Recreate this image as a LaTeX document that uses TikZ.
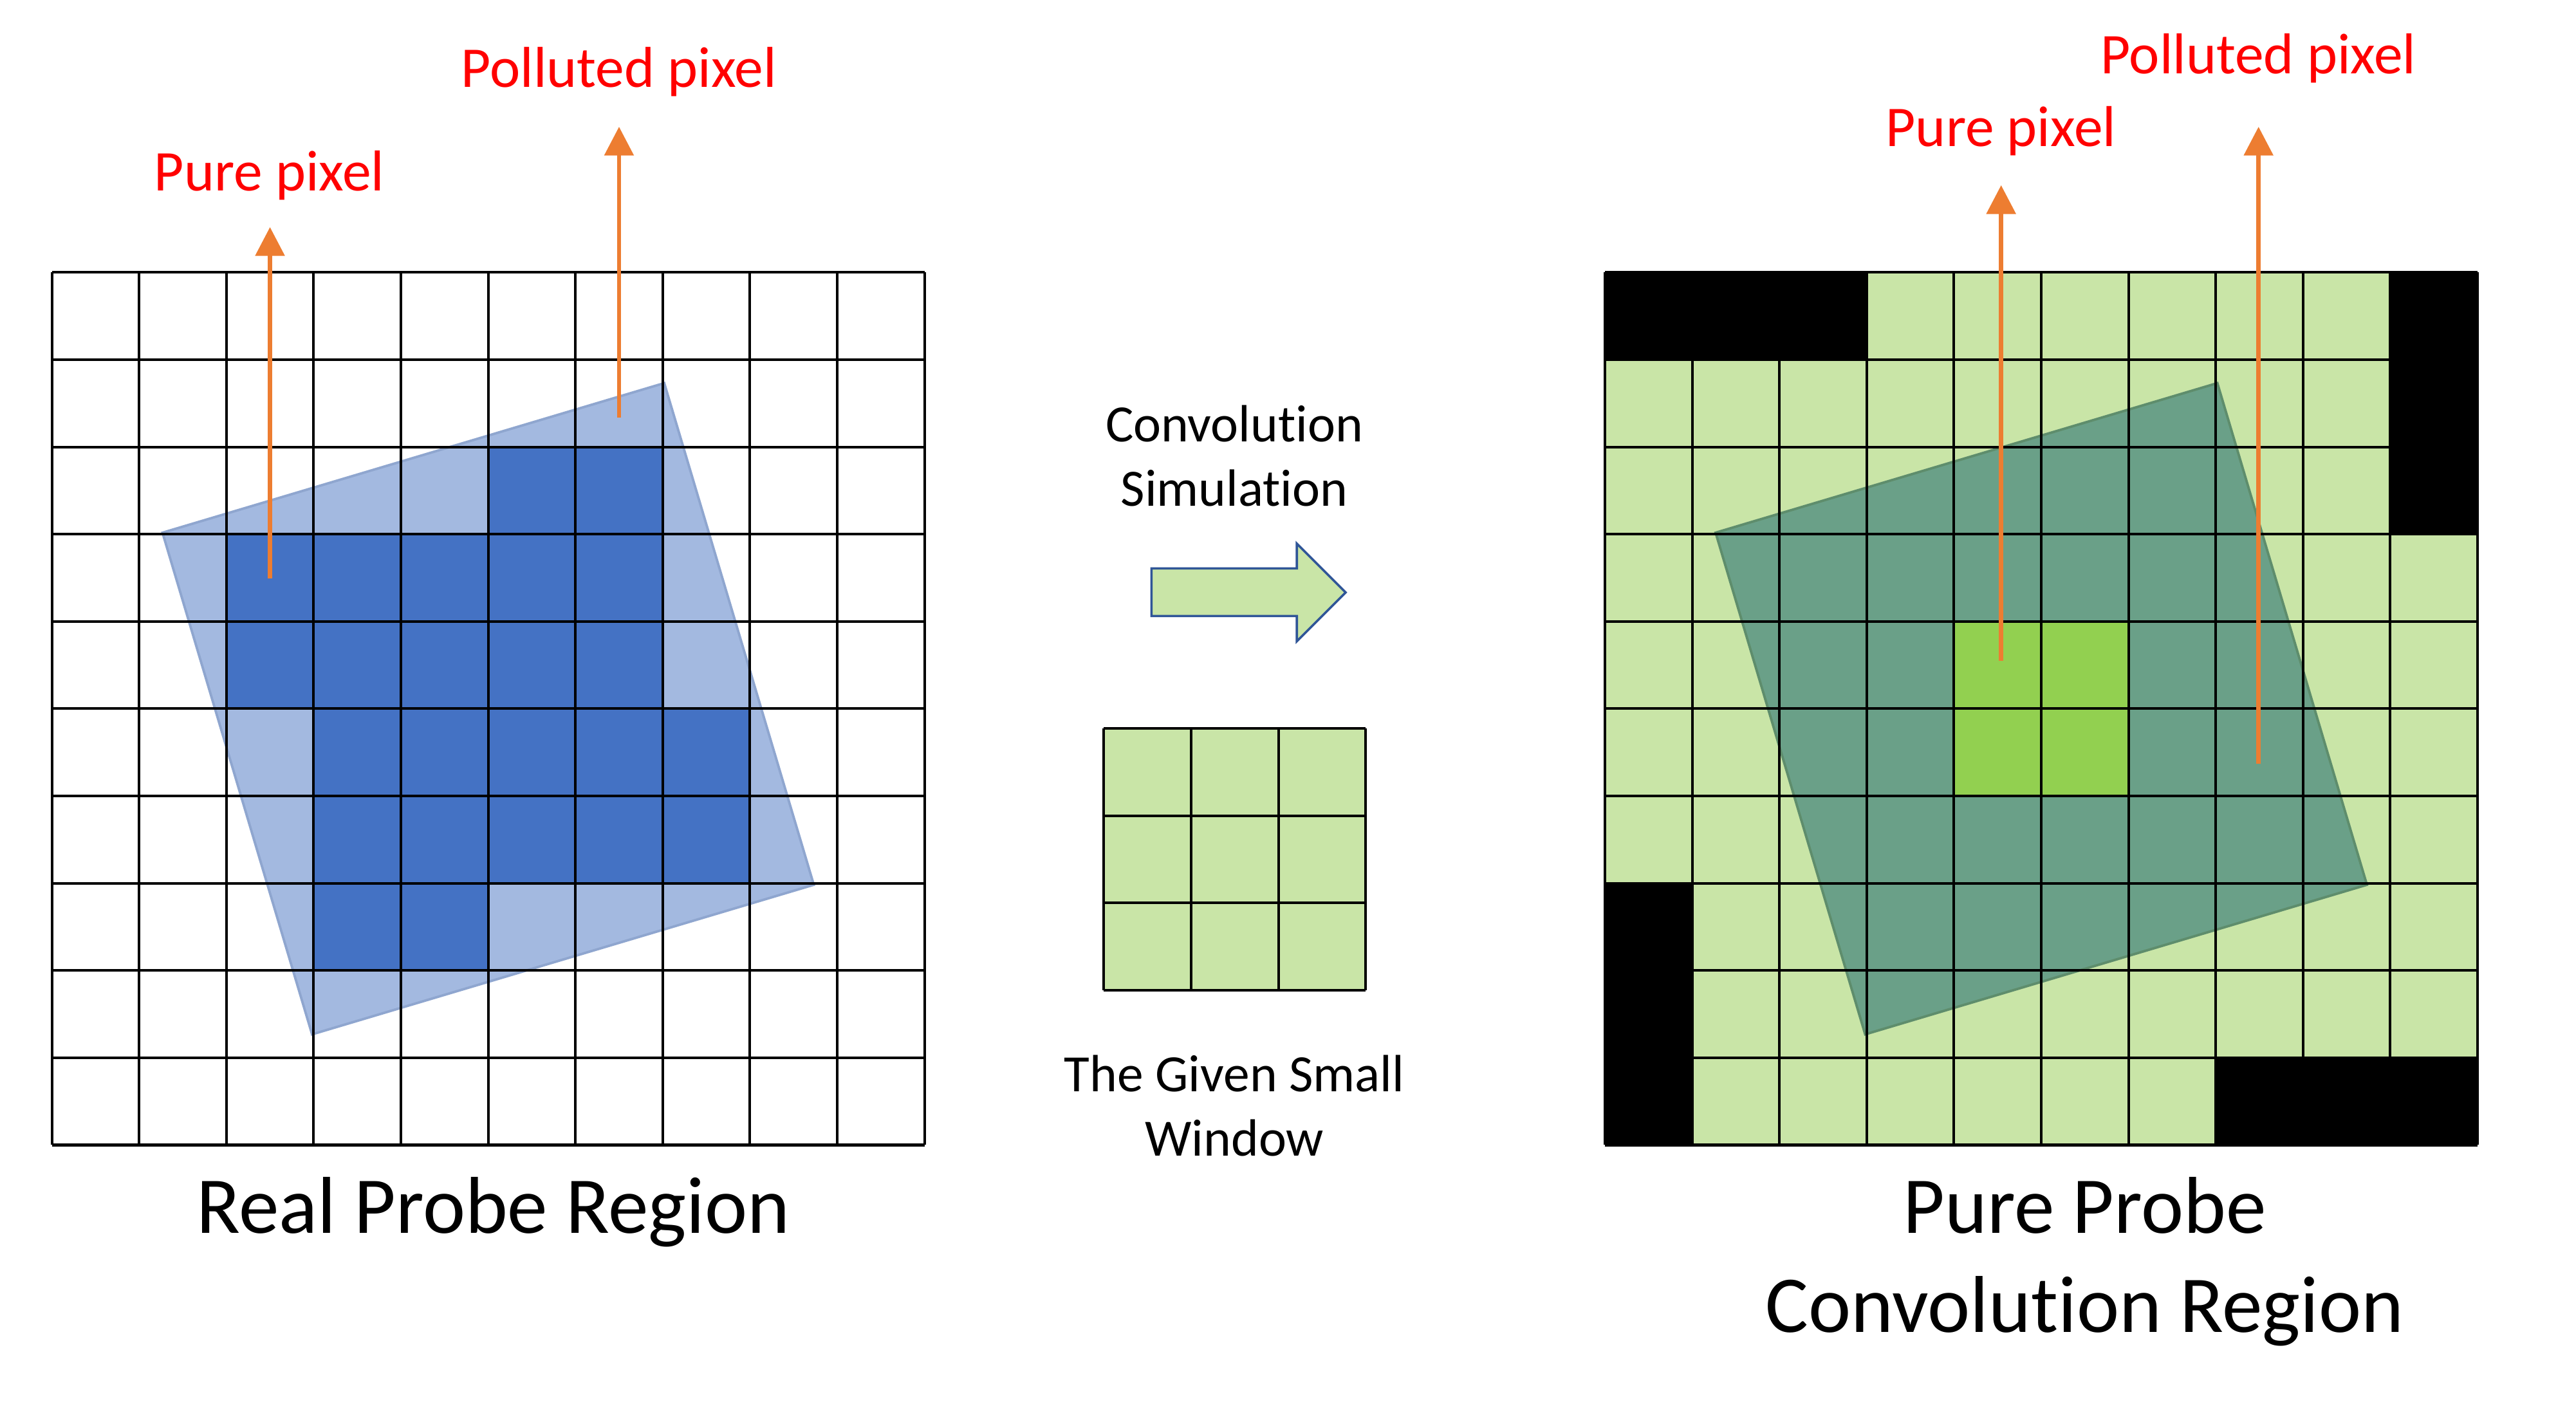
\documentclass[tikz,border=0pt]{standalone}
\usepackage{fontspec}
\setmainfont{Carlito}[Ligatures=CommonOff]
\usetikzlibrary{positioning,arrows.meta}
\definecolor{probeblue}{HTML}{4472C4}
\definecolor{probelight}{HTML}{A3B9E0}
\definecolor{probeedge}{HTML}{8FA6CF}
\definecolor{cellgreen}{HTML}{C9E5A7}
\definecolor{puregreen}{HTML}{92D050}
\definecolor{convteal}{HTML}{6AA088}
\definecolor{convedge}{HTML}{5E8D6C}
\definecolor{pixarrow}{HTML}{ED7D31}
\definecolor{blockedge}{HTML}{2F5597}
\tikzset{
    redlbl/.style={text=red,font=\fontsize{18.8}{22}\selectfont,anchor=base,inner sep=0pt},
    midlbl/.style={font=\fontsize{17.1}{20.8}\selectfont,anchor=base,inner sep=0pt},
    biglbl/.style={font=\fontsize{26.3}{32.3}\selectfont,anchor=base,inner sep=0pt},
    gridline/.style={line width=0.85pt},
    pixarr/.style={->,pixarrow,line width=1.4pt},
}
\begin{document}
\begin{tikzpicture}[>={Triangle[width=3.3mm,length=3.3mm]}]
\useasboundingbox (0,0) rectangle (29.52,16.09);
\begin{scope}[shift={(0.594,2.967)}]
    \draw[probeedge,fill=probelight,line width=0.8pt,rotate around={16.6:(5,5)}](2,2) rectangle (8,8);
    \fill[probeblue](5,7) rectangle (7,8);
    \fill[probeblue](2,5) rectangle (7,7);
    \fill[probeblue](3,3) rectangle (8,5);
    \fill[probeblue](3,2) rectangle (5,3);
\foreach \x in {0,...,10}
{
    \draw[gridline](\x,0)--(\x,10);
    \draw[gridline](0,\x)--(10,\x);
}
    \coordinate (lpure0) at (2.5,6.49);
    \coordinate (lpure1) at (2.5,10.52);
    \coordinate (lpol0) at (6.5,8.335);
    \coordinate (lpol1) at (6.5,11.67);
\end{scope}
\begin{scope}[shift={(18.392,2.967)}]
    \fill[cellgreen](0,0) rectangle (10,10);
    \draw[convedge,fill=convteal,line width=0.8pt,rotate around={16.6:(5,5)}](2,2) rectangle (8,8);
    \fill[puregreen](4,4) rectangle (6,6);
    \fill(0,9) rectangle (3,10);
    \fill(9,7) rectangle (10,10);
    \fill(0,0) rectangle (1,3);
    \fill(7,0) rectangle (10,1);
\foreach \x in {0,...,10}
{
    \draw[gridline](\x,0)--(\x,10);
    \draw[gridline](0,\x)--(10,\x);
}
    \coordinate (rpure0) at (4.54,5.55);
    \coordinate (rpure1) at (4.54,11.0);
    \coordinate (rpol0) at (7.49,4.37);
    \coordinate (rpol1) at (7.49,11.67);
\end{scope}
\begin{scope}[shift={(12.65,4.74)}]
    \fill[cellgreen](0,0) rectangle (3,3);
\foreach \x in {0,...,3}
{
    \draw[gridline](\x,0)--(\x,3);
    \draw[gridline](0,\x)--(3,\x);
}
\end{scope}
\draw[blockedge,fill=cellgreen,line width=0.75pt](13.196,9.03)--(14.861,9.03)--(14.861,8.74)--(15.421,9.30)--(14.861,9.86)--(14.861,9.575)--(13.196,9.575)--cycle;
\draw[pixarr](lpure0)--(lpure1);
\draw[pixarr](lpol0)--(lpol1);
\draw[pixarr](rpure0)--(rpure1);
\draw[pixarr](rpol0)--(rpol1);
\node[redlbl](lpoltext) at (7.094,15.087){Polluted pixel};
\node[redlbl](lpuretext) at (3.087,13.902){Pure pixel};
\node[redlbl](rpoltext) at (25.88,15.243){Polluted pixel};
\node[redlbl](rpuretext) at (22.93,14.41){Pure pixel};
\node[midlbl](convtext) at (14.145,11.024){Convolution};
\node[midlbl,below=0.734cm of convtext.base,anchor=base](simtext){Simulation};
\node[midlbl](wintext) at (14.145,3.577){The Given Small};
\node[midlbl,below=0.733cm of wintext.base,anchor=base](wintext2){Window};
\node[biglbl](realtext) at (5.651,1.957){Real Probe Region};
\node[biglbl](puretext) at (23.89,1.957){Pure Probe};
\node[biglbl,below=1.136cm of puretext.base,anchor=base](convregtext){Convolution Region};
\end{tikzpicture}
\end{document}
